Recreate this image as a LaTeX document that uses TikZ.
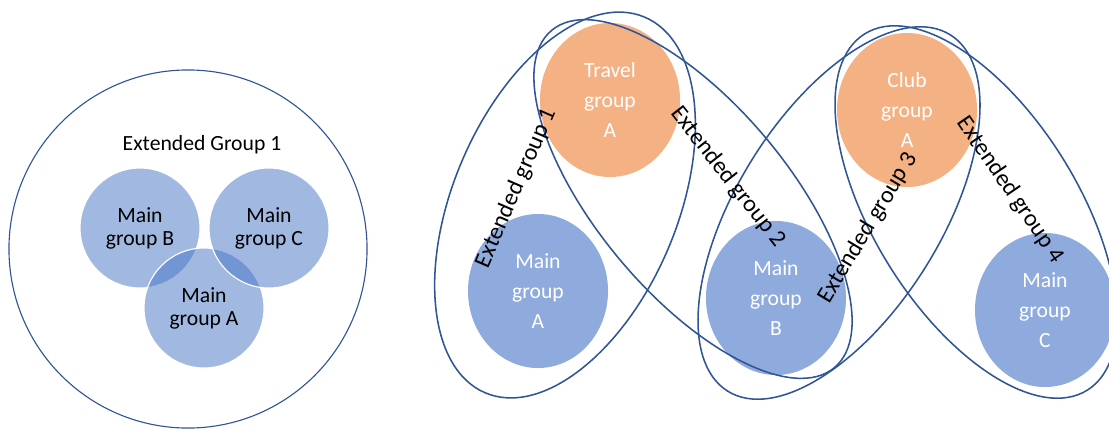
\documentclass[tikz,border=0pt]{standalone}
\usepackage{fontspec}
\setmainfont{Carlito}
\usetikzlibrary{shapes,positioning}
\usepackage{xcolor}
\definecolor{mainblue}{HTML}{4472C4}
\definecolor{lightblue}{HTML}{8FAADC}
\definecolor{travelorange}{HTML}{F4B183}
\definecolor{extblue}{HTML}{2F5597}

\tikzset{
    venncirc/.style={circle, minimum size=3cm, inner sep=0pt, align=center,
        fill=mainblue, fill opacity=0.5, text opacity=1, draw=white, line width=0.8pt,
        font=\fontsize{15.4}{16.4}\selectfont},
    groupcirc/.style={ellipse, minimum width=3.5cm, minimum height=3.85cm, inner sep=0pt,
        align=center, text=white, font=\fontsize{15.4}{21.3}\selectfont},
    extgroup/.style={ellipse, draw=extblue, line width=1.1pt, inner sep=0pt},
    extlabel/.style={font=\fontsize{17}{17}\selectfont, inner sep=0pt}
}

\begin{document}
\begin{tikzpicture}[x=0.025cm, y=-0.025cm]
    \useasboundingbox (0,0) rectangle (1109,430);
    % Left: one extended group
    \node[circle, draw=extblue, line width=0.8pt, minimum size=8.95cm] (ext) at (188,249) {};
    \node[font=\fontsize{15.4}{16.4}\selectfont] (extname) at (202,145) {Extended Group 1};
    \node[venncirc] (leftB) at (140,228) {Main\\group B};
    \node[venncirc] (leftA) at (204,308) {Main\\group A};
    \node[venncirc] (leftC) at (269,228) {Main\\group C};
    % Right: groups
    \node[groupcirc, fill=travelorange] (travelA) at (610,100) {Travel\\group\\A};
    \node[groupcirc, fill=lightblue] (mainA) at (538,291) {Main\\group\\A};
    \node[groupcirc, fill=lightblue] (mainB) at (776,298) {Main\\group\\B};
    \node[groupcirc, fill=travelorange] (clubA) at (907,110) {Club\\group\\A};
    \node[groupcirc, fill=lightblue] (mainC) at (1045,310) {Main\\group\\C};
    % Extended groups
    \node[extgroup, minimum width=10.2cm, minimum height=5.6cm, rotate=67] (ext1) at (565,205) {};
    \node[extgroup, minimum width=11cm, minimum height=4.75cm, rotate=-50] (ext2) at (693,199) {};
    \node[extgroup, minimum width=10.5cm, minimum height=5.1cm, rotate=58] (ext3) at (839,213) {};
    \node[extgroup, minimum width=10.5cm, minimum height=5.1cm, rotate=-58] (ext4) at (976,212) {};
    % Labels
    \node[extlabel, rotate=66.6] (lab1) at (516,188) {Extended group 1};
    \node[extlabel, rotate=-51.8] (lab2) at (728,177) {Extended group 2};
    \node[extlabel, rotate=59] (lab3) at (868,228) {Extended group 3};
    \node[extlabel, rotate=-55.6] (lab4) at (1010,190) {Extended group 4};
\end{tikzpicture}
\end{document}
